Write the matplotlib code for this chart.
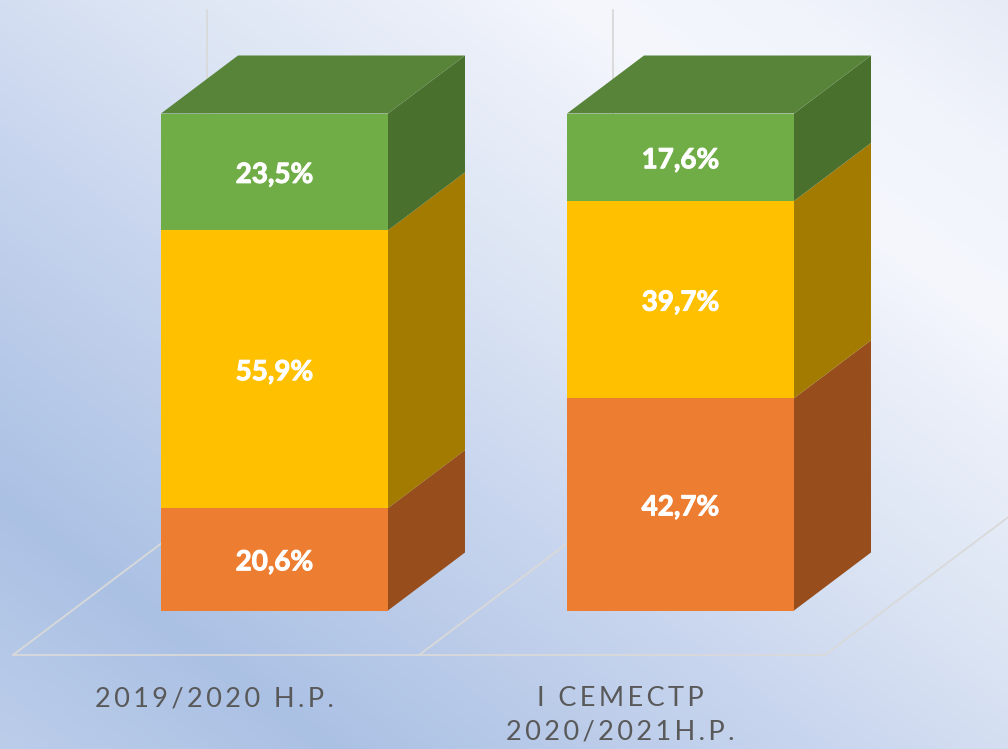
import matplotlib
matplotlib.use("Agg")
import matplotlib.pyplot as plt
import matplotlib.patheffects as pe
from matplotlib.colors import to_rgb
from matplotlib.patches import Polygon
import numpy as np

plt.rcParams['font.family'] = ['Lato', 'DejaVu Sans']

# dane
kategorie = ["2019/2020 Н.Р.", "І СЕМЕСТР\n2020/2021Н.Р."]
pomaranczowy = [20.6, 42.7]
zolty = [55.9, 39.7]
zielony = [23.5, 17.6]
serie = [pomaranczowy, zolty, zielony]

kolory_przod = ["#ed7d31", "#ffc000", "#70ad47"]
kolory_bok = ["#974e1c", "#a27b00", "#4a702e"]
kolor_gora = "#58843a"

W, H = 1008, 749
px_kat = 406.0   # pikseli na kategorie
px_proc = 4.97   # pikseli na procent
x0 = 274.5
y0 = 610.5

szer = 227 / px_kat
gl_x = 77 / px_kat
gl_y = 58 / px_proc
podloga_x = 194 / px_kat
podloga_y = 146 / px_proc
y_podl = (y0 - 655) / px_proc

fig = plt.figure(figsize=(W / 100, H / 100), dpi=100)
ax = fig.add_axes([0, 0, 1, 1])
ax.set_xlim(-x0 / px_kat, (W - x0) / px_kat)
ax.set_ylim((y0 - H) / px_proc, y0 / px_proc)
ax.axis("off")

# tlo - gradient po przekatnej
xx, yy = np.meshgrid(np.arange(W), np.arange(H))
t = 0.6 * xx - 0.8 * yy
punkty = [-599, -400, -108, 84, 250, 340, 470, 605]
stopnie = ["#bccdea", "#abc1e4", "#c8d5ee", "#dce5f4", "#ebeff9", "#f5f7fd", "#f1f4fb", "#e6ebf6"]
rgb = np.array([to_rgb(c) for c in stopnie])
tlo = np.dstack([np.interp(t, punkty, rgb[:, i]) for i in range(3)])
ax.imshow(tlo, extent=[*ax.get_xlim(), ax.get_ylim()[0], ax.get_ylim()[1]],
          origin="upper", aspect="auto", zorder=0)

# siatka podlogi
kol_siatki = "#d9d9d9"
for i in range(3):
    xl = (13 - x0) / px_kat + i
    ax.plot([xl, xl + podloga_x], [y_podl, y_podl + podloga_y], color=kol_siatki, lw=1.3, zorder=1)
    if i < 2:
        ax.plot([xl + podloga_x, xl + podloga_x], [y_podl + podloga_y, (y0 - 10) / px_proc],
                color=kol_siatki, lw=1.3, zorder=1)
ax.plot([(13 - x0) / px_kat, (825 - x0) / px_kat], [y_podl, y_podl], color=kol_siatki, lw=1.3, zorder=1)

# slupki
pozycje = np.arange(len(kategorie))
dol = np.zeros(len(kategorie))
for s, wart in enumerate(serie):
    wart = np.array(wart)
    ax.bar(pozycje, wart, width=szer, bottom=dol, color=kolory_przod[s], zorder=3)
    for k in pozycje:
        xp = k + szer / 2
        bok = [(xp, dol[k]), (xp + gl_x, dol[k] + gl_y),
               (xp + gl_x, dol[k] + wart[k] + gl_y), (xp, dol[k] + wart[k])]
        ax.add_patch(Polygon(bok, closed=True, fc=kolory_bok[s], ec="none", zorder=2))
        ax.text(k, dol[k] + wart[k] / 2 - 3 / px_proc, f"{wart[k]:.1f}%".replace(".", ","), color="white",
                fontsize=20, fontweight="bold", ha="center", va="center", zorder=4,
                path_effects=[pe.withStroke(linewidth=0.7, foreground="white")])
    dol = dol + wart

for k in pozycje:
    xl = k - szer / 2
    gora = [(xl, dol[k]), (xl + szer, dol[k]), (xl + szer + gl_x, dol[k] + gl_y), (xl + gl_x, dol[k] + gl_y)]
    ax.add_patch(Polygon(gora, closed=True, fc=kolor_gora, ec="none", zorder=2))

# podpisy kategorii z rozstrzelonymi literami
def rozstrzel(napis):
    return "\n".join("\u2009".join(w) for w in napis.split("\n"))

for k, nazwa in zip(pozycje, kategorie):
    ax.text(k - 60 / px_kat, (y0 - 686) / px_proc, rozstrzel(nazwa), color="#595959", fontsize=19.5,
            ha="center", va="top", linespacing=1.42, zorder=4)

fig.savefig("out.png", dpi=100)
